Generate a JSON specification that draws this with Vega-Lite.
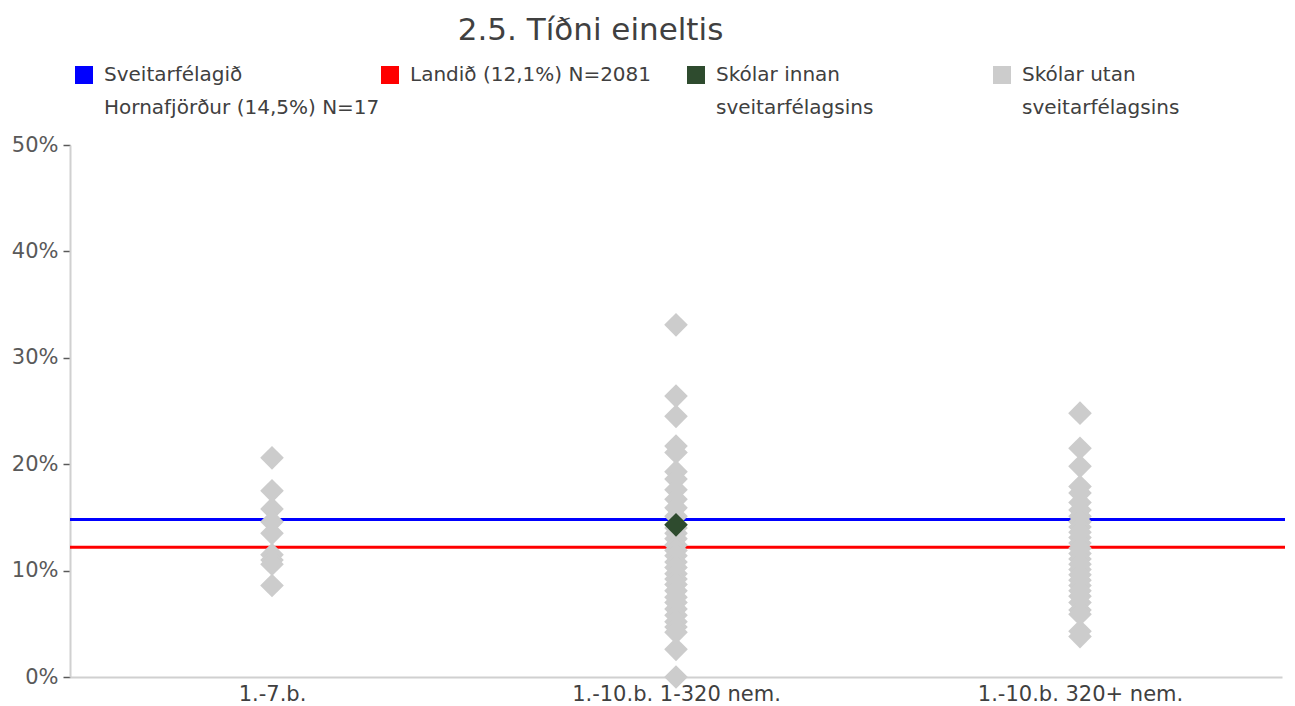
{
  "$schema": "https://vega.github.io/schema/vega-lite/v6.json",
  "width": 1215,
  "height": 532,
  "autosize": {"type": "none"},
  "padding": {"left": 70, "top": 145, "right": 10, "bottom": 29},
  "background": "white",
  "config": {
    "font": "DejaVu Sans",
    "view": {"stroke": null},
    "style": {"guide-label": {"lineHeight": 33}},
    "title": {"font": "DejaVu Sans", "fontSize": 31, "fontWeight": "normal", "color": "#404040"}
  },
  "title": {"text": "2.5. Tíðni eineltis", "anchor": "middle", "dx": -87, "offset": 18},
  "datasets": {
    "lines": [
      {"series": "Sveitarfélagið Hornafjörður (14,5%) N=17", "value": 0.148},
      {"series": "Landið (12,1%) N=2081", "value": 0.122}
    ],
    "points": [
      {"skoli": "1.-7.b.", "series": "Skólar utan sveitarfélagsins", "value": 0.206},
      {"skoli": "1.-7.b.", "series": "Skólar utan sveitarfélagsins", "value": 0.175},
      {"skoli": "1.-7.b.", "series": "Skólar utan sveitarfélagsins", "value": 0.158},
      {"skoli": "1.-7.b.", "series": "Skólar utan sveitarfélagsins", "value": 0.146},
      {"skoli": "1.-7.b.", "series": "Skólar utan sveitarfélagsins", "value": 0.135},
      {"skoli": "1.-7.b.", "series": "Skólar utan sveitarfélagsins", "value": 0.115},
      {"skoli": "1.-7.b.", "series": "Skólar utan sveitarfélagsins", "value": 0.110},
      {"skoli": "1.-7.b.", "series": "Skólar utan sveitarfélagsins", "value": 0.106},
      {"skoli": "1.-7.b.", "series": "Skólar utan sveitarfélagsins", "value": 0.086},
      {"skoli": "1.-10.b. 1-320 nem.", "series": "Skólar utan sveitarfélagsins", "value": 0.331},
      {"skoli": "1.-10.b. 1-320 nem.", "series": "Skólar utan sveitarfélagsins", "value": 0.264},
      {"skoli": "1.-10.b. 1-320 nem.", "series": "Skólar utan sveitarfélagsins", "value": 0.245},
      {"skoli": "1.-10.b. 1-320 nem.", "series": "Skólar utan sveitarfélagsins", "value": 0.217},
      {"skoli": "1.-10.b. 1-320 nem.", "series": "Skólar utan sveitarfélagsins", "value": 0.211},
      {"skoli": "1.-10.b. 1-320 nem.", "series": "Skólar utan sveitarfélagsins", "value": 0.193},
      {"skoli": "1.-10.b. 1-320 nem.", "series": "Skólar utan sveitarfélagsins", "value": 0.186},
      {"skoli": "1.-10.b. 1-320 nem.", "series": "Skólar utan sveitarfélagsins", "value": 0.176},
      {"skoli": "1.-10.b. 1-320 nem.", "series": "Skólar utan sveitarfélagsins", "value": 0.167},
      {"skoli": "1.-10.b. 1-320 nem.", "series": "Skólar utan sveitarfélagsins", "value": 0.159},
      {"skoli": "1.-10.b. 1-320 nem.", "series": "Skólar utan sveitarfélagsins", "value": 0.151},
      {"skoli": "1.-10.b. 1-320 nem.", "series": "Skólar utan sveitarfélagsins", "value": 0.140},
      {"skoli": "1.-10.b. 1-320 nem.", "series": "Skólar utan sveitarfélagsins", "value": 0.135},
      {"skoli": "1.-10.b. 1-320 nem.", "series": "Skólar utan sveitarfélagsins", "value": 0.130},
      {"skoli": "1.-10.b. 1-320 nem.", "series": "Skólar utan sveitarfélagsins", "value": 0.124},
      {"skoli": "1.-10.b. 1-320 nem.", "series": "Skólar utan sveitarfélagsins", "value": 0.119},
      {"skoli": "1.-10.b. 1-320 nem.", "series": "Skólar utan sveitarfélagsins", "value": 0.114},
      {"skoli": "1.-10.b. 1-320 nem.", "series": "Skólar utan sveitarfélagsins", "value": 0.108},
      {"skoli": "1.-10.b. 1-320 nem.", "series": "Skólar utan sveitarfélagsins", "value": 0.103},
      {"skoli": "1.-10.b. 1-320 nem.", "series": "Skólar utan sveitarfélagsins", "value": 0.097},
      {"skoli": "1.-10.b. 1-320 nem.", "series": "Skólar utan sveitarfélagsins", "value": 0.092},
      {"skoli": "1.-10.b. 1-320 nem.", "series": "Skólar utan sveitarfélagsins", "value": 0.087},
      {"skoli": "1.-10.b. 1-320 nem.", "series": "Skólar utan sveitarfélagsins", "value": 0.081},
      {"skoli": "1.-10.b. 1-320 nem.", "series": "Skólar utan sveitarfélagsins", "value": 0.075},
      {"skoli": "1.-10.b. 1-320 nem.", "series": "Skólar utan sveitarfélagsins", "value": 0.070},
      {"skoli": "1.-10.b. 1-320 nem.", "series": "Skólar utan sveitarfélagsins", "value": 0.064},
      {"skoli": "1.-10.b. 1-320 nem.", "series": "Skólar utan sveitarfélagsins", "value": 0.058},
      {"skoli": "1.-10.b. 1-320 nem.", "series": "Skólar utan sveitarfélagsins", "value": 0.052},
      {"skoli": "1.-10.b. 1-320 nem.", "series": "Skólar utan sveitarfélagsins", "value": 0.047},
      {"skoli": "1.-10.b. 1-320 nem.", "series": "Skólar utan sveitarfélagsins", "value": 0.042},
      {"skoli": "1.-10.b. 1-320 nem.", "series": "Skólar utan sveitarfélagsins", "value": 0.026},
      {"skoli": "1.-10.b. 1-320 nem.", "series": "Skólar utan sveitarfélagsins", "value": 0.000},
      {"skoli": "1.-10.b. 320+ nem.", "series": "Skólar utan sveitarfélagsins", "value": 0.248},
      {"skoli": "1.-10.b. 320+ nem.", "series": "Skólar utan sveitarfélagsins", "value": 0.215},
      {"skoli": "1.-10.b. 320+ nem.", "series": "Skólar utan sveitarfélagsins", "value": 0.198},
      {"skoli": "1.-10.b. 320+ nem.", "series": "Skólar utan sveitarfélagsins", "value": 0.179},
      {"skoli": "1.-10.b. 320+ nem.", "series": "Skólar utan sveitarfélagsins", "value": 0.173},
      {"skoli": "1.-10.b. 320+ nem.", "series": "Skólar utan sveitarfélagsins", "value": 0.164},
      {"skoli": "1.-10.b. 320+ nem.", "series": "Skólar utan sveitarfélagsins", "value": 0.157},
      {"skoli": "1.-10.b. 320+ nem.", "series": "Skólar utan sveitarfélagsins", "value": 0.151},
      {"skoli": "1.-10.b. 320+ nem.", "series": "Skólar utan sveitarfélagsins", "value": 0.146},
      {"skoli": "1.-10.b. 320+ nem.", "series": "Skólar utan sveitarfélagsins", "value": 0.141},
      {"skoli": "1.-10.b. 320+ nem.", "series": "Skólar utan sveitarfélagsins", "value": 0.136},
      {"skoli": "1.-10.b. 320+ nem.", "series": "Skólar utan sveitarfélagsins", "value": 0.131},
      {"skoli": "1.-10.b. 320+ nem.", "series": "Skólar utan sveitarfélagsins", "value": 0.126},
      {"skoli": "1.-10.b. 320+ nem.", "series": "Skólar utan sveitarfélagsins", "value": 0.121},
      {"skoli": "1.-10.b. 320+ nem.", "series": "Skólar utan sveitarfélagsins", "value": 0.116},
      {"skoli": "1.-10.b. 320+ nem.", "series": "Skólar utan sveitarfélagsins", "value": 0.111},
      {"skoli": "1.-10.b. 320+ nem.", "series": "Skólar utan sveitarfélagsins", "value": 0.106},
      {"skoli": "1.-10.b. 320+ nem.", "series": "Skólar utan sveitarfélagsins", "value": 0.101},
      {"skoli": "1.-10.b. 320+ nem.", "series": "Skólar utan sveitarfélagsins", "value": 0.096},
      {"skoli": "1.-10.b. 320+ nem.", "series": "Skólar utan sveitarfélagsins", "value": 0.091},
      {"skoli": "1.-10.b. 320+ nem.", "series": "Skólar utan sveitarfélagsins", "value": 0.086},
      {"skoli": "1.-10.b. 320+ nem.", "series": "Skólar utan sveitarfélagsins", "value": 0.081},
      {"skoli": "1.-10.b. 320+ nem.", "series": "Skólar utan sveitarfélagsins", "value": 0.076},
      {"skoli": "1.-10.b. 320+ nem.", "series": "Skólar utan sveitarfélagsins", "value": 0.070},
      {"skoli": "1.-10.b. 320+ nem.", "series": "Skólar utan sveitarfélagsins", "value": 0.063},
      {"skoli": "1.-10.b. 320+ nem.", "series": "Skólar utan sveitarfélagsins", "value": 0.059},
      {"skoli": "1.-10.b. 320+ nem.", "series": "Skólar utan sveitarfélagsins", "value": 0.043},
      {"skoli": "1.-10.b. 320+ nem.", "series": "Skólar utan sveitarfélagsins", "value": 0.038},
      {"skoli": "1.-10.b. 1-320 nem.", "series": "Skólar innan sveitarfélagsins", "value": 0.143}
    ]
  },
  "encoding": {
    "y": {
      "field": "value",
      "type": "quantitative",
      "scale": {"domain": [0, 0.5], "nice": false},
      "axis": {
        "title": null,
        "format": ".0%",
        "values": [0, 0.1, 0.2, 0.3, 0.4, 0.5],
        "grid": false,
        "domainColor": "#d0d0d0",
        "domainWidth": 2,
        "tickColor": "#595959",
        "tickSize": 7,
        "tickWidth": 1.5,
        "labelPadding": 5,
        "labelFontSize": 21,
        "labelColor": "#595959",
        "labelFont": "DejaVu Sans"
      }
    },
    "color": {
      "field": "series",
      "type": "nominal",
      "scale": {
        "domain": ["Sveitarfélagið Hornafjörður (14,5%) N=17", "Landið (12,1%) N=2081", "Skólar innan sveitarfélagsins", "Skólar utan sveitarfélagsins"],
        "range": ["#0000FF", "#FF0000", "#2E4B2E", "#CCCCCC"]
      },
      "legend": {
        "title": null,
        "orient": "none",
        "legendX": 4,
        "legendY": -80,
        "direction": "horizontal",
        "columns": 4,
        "gridAlign": "all",
        "columnPadding": 0,
        "rowPadding": 0,
        "symbolType": "square",
        "symbolSize": 324,
        "symbolStrokeWidth": 0,
        "symbolOpacity": 1,
        "labelFontSize": 20,
        "labelFont": "DejaVu Sans",
        "labelColor": "#404040",
        "labelLimit": 500,
        "labelOffset": 10,
        "labelExpr": "datum.label == 'Sveitarfélagið Hornafjörður (14,5%) N=17' ? ['Sveitarfélagið', 'Hornafjörður (14,5%) N=17'] : datum.label == 'Landið (12,1%) N=2081' ? ['Landið (12,1%) N=2081', ' '] : datum.label == 'Skólar innan sveitarfélagsins' ? ['Skólar innan', 'sveitarfélagsins'] : ['Skólar utan', 'sveitarfélagsins']"
      }
    }
  },
  "layer": [
    {
      "data": {"name": "lines"},
      "mark": {"type": "rule", "strokeWidth": 3},
      "encoding": {}
    },
    {
      "data": {"name": "points"},
      "mark": {"type": "point", "shape": "diamond", "filled": true, "size": 560, "opacity": 1, "strokeWidth": 0},
      "encoding": {
        "x": {
          "field": "skoli",
          "type": "nominal",
          "sort": null,
          "scale": {"paddingInner": 0, "paddingOuter": 0, "range": [0, 1212]},
          "axis": {
            "title": null,
            "labelAngle": 0,
            "ticks": false,
            "domainColor": "#d0d0d0",
            "domainWidth": 2,
            "labelPadding": 6,
            "labelLimit": 400,
            "labelFontSize": 21,
            "labelColor": "#404040",
            "labelFont": "DejaVu Sans"
          }
        }
      }
    }
  ]
}
